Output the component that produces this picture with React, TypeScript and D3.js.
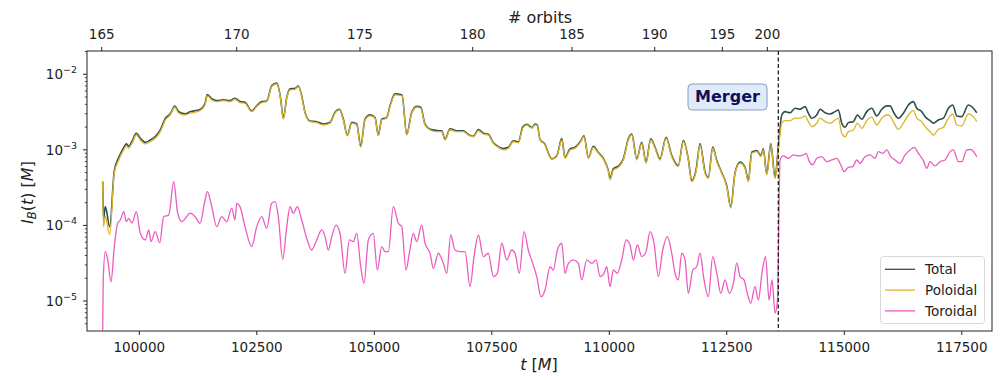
import React from 'react';
import * as d3 from 'd3';

// ---- data ----
const POL_T = [
  99221, 99238, 99277, 99370, 99468, 99562, 99668, 99723, 99774, 99845,
  99936, 100021, 100128, 100234, 100340, 100447, 100553, 100660, 100753, 100838,
  100979, 101079, 101292, 101398, 101447, 101541, 101647, 101787, 101930, 102036,
  102143, 102249, 102392, 102498, 102604, 102711, 102817, 102924, 103009, 103064,
  103137, 103207, 103313, 103383, 103456, 103526, 103632, 103775, 103915, 104058,
  104164, 104256, 104341, 104426, 104520, 104626, 104711, 104803, 104909, 105016,
  105086, 105158, 105264, 105335, 105441, 105590, 105690, 105796, 105903, 105988,
  106079, 106186, 106328, 106435, 106505, 106611, 106754, 106894, 107001, 107107,
  107214, 107320, 107426, 107533, 107639, 107746, 107852, 107958, 108065, 108158,
  108243, 108350, 108420, 108469, 108526, 108633, 108703, 108775, 108882, 108988,
  109058, 109165, 109271, 109378, 109463, 109554, 109661, 109767, 109873, 109980,
  110016, 110086, 110193, 110299, 110405, 110478, 110584, 110691, 110782, 110882,
  110974, 111080, 111208, 111329, 111469, 111576, 111682, 111754, 111846, 111931,
  112038, 112108, 112201, 112287, 112393, 112499, 112585, 112676, 112782, 112889,
  112959, 113031, 113138, 113223, 113278, 113350, 113436, 113527, 113597,
  113670, 113740, 113846, 113953, 114059, 114165, 114236, 114308, 114414, 114485,
  114591, 114697, 114804, 114874, 114946, 115017, 115087, 115193, 115278, 115372,
  115478, 115585, 115691, 115797, 115904, 115974, 116059, 116151, 116257, 116364,
  116470, 116542, 116649, 116719, 116825, 116896, 117002, 117108, 117215, 117308,
  117394, 117500, 117640, 117747, 117819,
];
const POL_V = [
  3.8e-4, 9.6e-5, 1.31e-4, 7.5e-5, 4.94e-4, 7.34e-4, 1.0e-3, 1.12e-3, 1.05e-3, 1.22e-3,
  1.57e-3, 1.35e-3, 1.2e-3, 1.28e-3, 1.42e-3, 1.74e-3, 2.48e-3, 2.89e-3, 3.66e-3, 3.05e-3,
  2.89e-3, 3.05e-3, 3.3e-3, 3.92e-3, 5.16e-3, 4.57e-3, 4.34e-3, 4.47e-3, 4.34e-3, 4.67e-3,
  4.21e-3, 4.13e-3, 3.2e-3, 3.73e-3, 4.21e-3, 4.34e-3, 6.85e-3, 7.44e-3, 4.57e-3, 2.54e-3,
  4.81e-3, 6.2e-3, 6.33e-3, 6.85e-3, 5.05e-3, 3.05e-3, 2.36e-3, 2.29e-3, 2.13e-3, 2.25e-3,
  3.05e-3, 3.37e-3, 2.48e-3, 1.53e-3, 2.25e-3, 2.13e-3, 1.08e-3, 2.48e-3, 2.81e-3, 2.62e-3,
  1.53e-3, 2.48e-3, 2.62e-3, 3.73e-3, 5.32e-3, 5.16e-3, 1.57e-3, 3.05e-3, 3.66e-3, 3.55e-3,
  2.13e-3, 1.83e-3, 1.74e-3, 1.74e-3, 1.35e-3, 1.83e-3, 1.74e-3, 1.74e-3, 1.57e-3, 1.49e-3,
  1.79e-3, 1.62e-3, 1.57e-3, 1.22e-3, 1.08e-3, 9.96e-4, 1.05e-3, 1.28e-3, 1.24e-3, 1.93e-3,
  2.13e-3, 1.93e-3, 2.13e-3, 2.07e-3, 1.35e-3, 1.16e-3, 9.0e-4, 7.5e-4, 8.12e-4, 1.35e-3,
  7.73e-4, 9.96e-4, 1.05e-3, 1.24e-3, 1.49e-3, 7.73e-4, 1.08e-3, 9.0e-4, 7.5e-4, 5.14e-4,
  4.0e-4, 5.42e-4, 5.88e-4, 7.34e-4, 1.35e-3, 1.57e-3, 7.34e-4, 1.22e-3, 6.64e-4, 1.35e-3,
  1.05e-3, 7.34e-4, 1.42e-3, 8.12e-4, 6.0e-4, 1.28e-3, 7.34e-4, 3.79e-4, 5.14e-4, 1.16e-3,
  4.9e-4, 4.21e-4, 1.05e-3, 6.97e-4, 4.9e-4, 3.26e-4, 1.69e-4, 4.9e-4, 6.64e-4, 5.7e-4,
  3.79e-4, 9.0e-4, 9.46e-4, 8.12e-4, 9.96e-4, 4.65e-4, 1.16e-3, 4.2e-4, 1.0e-3,
  2.25e-3, 2.43e-3, 2.43e-3, 2.62e-3, 2.62e-3, 2.81e-3, 2.36e-3, 2.03e-3, 2.25e-3, 2.62e-3,
  2.36e-3, 2.25e-3, 2.48e-3, 2.62e-3, 1.66e-3, 1.49e-3, 1.74e-3, 1.83e-3, 2.25e-3, 1.93e-3,
  2.43e-3, 2.7e-3, 2.13e-3, 2.62e-3, 2.89e-3, 2.81e-3, 2.25e-3, 1.87e-3, 2.25e-3, 2.89e-3,
  3.3e-3, 2.62e-3, 2.36e-3, 2.03e-3, 1.74e-3, 1.57e-3, 1.87e-3, 1.99e-3, 2.62e-3, 2.98e-3,
  2.13e-3, 2.07e-3, 2.98e-3, 2.75e-3, 2.36e-3,
];
const TOT_V = [
  3.8e-4, 1.2e-4, 1.77e-4, 9.6e-5, 5.3e-4, 7.9e-4, 1.07e-3, 1.2e-3, 1.12e-3, 1.3e-3,
  1.66e-3, 1.42e-3, 1.26e-3, 1.35e-3, 1.5e-3, 1.84e-3, 2.6e-3, 3.0e-3, 3.8e-3, 3.2e-3,
  3.0e-3, 3.18e-3, 3.42e-3, 4.1e-3, 5.4e-3, 4.75e-3, 4.48e-3, 4.6e-3, 4.48e-3, 4.8e-3,
  4.36e-3, 4.25e-3, 3.26e-3, 3.83e-3, 4.34e-3, 4.43e-3, 7.05e-3, 7.65e-3, 4.7e-3, 2.6e-3,
  4.92e-3, 6.4e-3, 6.5e-3, 7.0e-3, 5.18e-3, 3.12e-3, 2.41e-3, 2.35e-3, 2.2e-3, 2.3e-3,
  3.15e-3, 3.45e-3, 2.56e-3, 1.56e-3, 2.31e-3, 2.2e-3, 1.11e-3, 2.55e-3, 2.9e-3, 2.68e-3,
  1.56e-3, 2.54e-3, 2.67e-3, 3.85e-3, 5.5e-3, 5.3e-3, 1.6e-3, 3.14e-3, 3.76e-3, 3.65e-3,
  2.19e-3, 1.87e-3, 1.8e-3, 1.78e-3, 1.38e-3, 1.9e-3, 1.79e-3, 1.78e-3, 1.6e-3, 1.51e-3,
  1.86e-3, 1.66e-3, 1.61e-3, 1.24e-3, 1.1e-3, 1.04e-3, 1.08e-3, 1.32e-3, 1.27e-3, 2.0e-3,
  2.18e-3, 1.97e-3, 2.19e-3, 2.11e-3, 1.37e-3, 1.18e-3, 9.1e-4, 7.6e-4, 8.3e-4, 1.41e-3,
  7.9e-4, 1.03e-3, 1.08e-3, 1.27e-3, 1.53e-3, 7.9e-4, 1.11e-3, 9.2e-4, 7.7e-4, 5.3e-4,
  4.2e-4, 5.6e-4, 6.1e-4, 7.6e-4, 1.4e-3, 1.62e-3, 7.6e-4, 1.26e-3, 6.9e-4, 1.4e-3,
  1.08e-3, 7.55e-4, 1.47e-3, 8.4e-4, 6.2e-4, 1.33e-3, 7.5e-4, 3.9e-4, 5.4e-4, 1.21e-3,
  5.1e-4, 4.3e-4, 1.09e-3, 7.2e-4, 5.0e-4, 3.35e-4, 1.75e-4, 5.0e-4, 6.9e-4, 5.85e-4,
  3.9e-4, 9.3e-4, 9.8e-4, 8.4e-4, 1.03e-3, 4.8e-4, 1.2e-3, 4.3e-4, 1.1e-3,
  2.89e-3, 3.2e-3, 3.1e-3, 3.55e-3, 3.44e-3, 3.73e-3, 3.05e-3, 2.62e-3, 2.89e-3, 3.44e-3,
  3.1e-3, 2.98e-3, 3.2e-3, 3.37e-3, 2.25e-3, 1.99e-3, 2.29e-3, 2.36e-3, 2.89e-3, 2.54e-3,
  3.2e-3, 3.55e-3, 2.81e-3, 3.44e-3, 3.81e-3, 3.81e-3, 3.05e-3, 2.62e-3, 3.05e-3, 3.92e-3,
  4.34e-3, 3.55e-3, 3.2e-3, 2.75e-3, 2.43e-3, 2.25e-3, 2.48e-3, 2.62e-3, 3.55e-3, 3.92e-3,
  2.81e-3, 2.75e-3, 3.92e-3, 3.55e-3, 3.1e-3,
];
const TOR_T = [
  99221, 99232, 99277, 99328, 99398, 99468, 99540, 99596, 99668, 99723,
  99774, 99845, 99936, 100021, 100128, 100200, 100249, 100340, 100434, 100519,
  100626, 100732, 100817, 100909, 101009, 101079, 101185, 101292, 101398, 101447,
  101541, 101647, 101753, 101860, 101966, 102036, 102073, 102143, 102249, 102392,
  102498, 102604, 102711, 102817, 102888, 102958, 103051, 103137, 103207, 103277,
  103362, 103456, 103562, 103668, 103775, 103881, 103952, 104022, 104094, 104186,
  104271, 104377, 104469, 104554, 104626, 104711, 104781, 104873, 104979, 105064,
  105158, 105228, 105298, 105405, 105511, 105584, 105675, 105745, 105830, 105903,
  106009, 106079, 106186, 106256, 106362, 106469, 106541, 106626, 106718, 106824,
  106931, 107037, 107122, 107214, 107320, 107426, 107533, 107618, 107712, 107818,
  107924, 107995, 108086, 108186, 108277, 108371, 108456, 108548, 108633, 108739,
  108809, 108895, 108988, 109058, 109129, 109235, 109342, 109414, 109520, 109627,
  109718, 109803, 109888, 109946, 110016, 110086, 110171, 110265, 110357, 110441,
  110512, 110597, 110691, 110782, 110867, 110952, 111044, 111137, 111235, 111329,
  111399, 111469, 111542, 111612, 111682, 111776, 111861, 111931, 112016, 112108,
  112201, 112287, 112372, 112463, 112555, 112640, 112712, 112782, 112867, 112937,
  113010, 113101, 113172, 113250, 113325, 113400, 113463, 113527, 113580,
  113633, 113704, 113810, 113917, 114023, 114129, 114187, 114257, 114329, 114414,
  114521, 114627, 114733, 114840, 114925, 114995, 115087, 115180, 115266, 115336,
  115442, 115549, 115655, 115725, 115819, 115904, 115989, 116080, 116187, 116293,
  116400, 116485, 116576, 116683, 116755, 116825, 116932, 117038, 117144, 117251,
  117321, 117428, 117500, 117606, 117691, 117819,
];
const TOR_V = [
  4.1e-6, 1.9e-5, 4.49e-5, 3.49e-5, 1.8e-5, 5.24e-5, 1.07e-4, 1.18e-4, 1.52e-4, 1.12e-4,
  1.24e-4, 1.07e-4, 1.52e-4, 7.87e-5, 6.42e-5, 8.71e-5, 6.1e-5, 8.26e-5, 5.91e-5, 1.31e-4,
  1.37e-4, 3.79e-4, 1.45e-4, 1.12e-4, 1.31e-4, 1.45e-4, 1.31e-4, 1.07e-4, 2.17e-4, 2.8e-4,
  1.77e-4, 9.62e-5, 1.31e-4, 1.12e-4, 1.69e-4, 1.18e-4, 1.96e-4, 1.77e-4, 9.62e-5, 5.24e-5,
  9.62e-5, 1.31e-4, 9.17e-5, 1.96e-4, 2.06e-4, 1.31e-4, 3.56e-5, 9.62e-5, 1.77e-4, 1.45e-4,
  1.77e-4, 1.18e-4, 6.76e-5, 4.73e-5, 6.42e-5, 8.71e-5, 7.1e-5, 4.73e-5, 7.1e-5, 1.01e-4,
  7.87e-5, 2.33e-5, 6.42e-5, 6.1e-5, 7.87e-5, 2.84e-5, 1.71e-5, 6.42e-5, 7.87e-5, 2.57e-5,
  5.24e-5, 4.49e-5, 4.49e-5, 1.77e-4, 1.07e-4, 9.62e-5, 2.57e-5, 4.28e-5, 7.87e-5, 6.1e-5,
  1.01e-4, 5.81e-5, 4.28e-5, 2.71e-5, 4.28e-5, 3.15e-5, 2.33e-5, 7.47e-5, 4.73e-5, 4.49e-5,
  4.49e-5, 1.55e-5, 3.86e-5, 7.47e-5, 3.86e-5, 4.28e-5, 2.1e-5, 2.33e-5, 5.81e-5, 3.49e-5,
  4.73e-5, 4.28e-5, 2.33e-5, 8.26e-5, 4.73e-5, 3.15e-5, 2.1e-5, 1.14e-5, 1.4e-5, 2.84e-5,
  2.57e-5, 4.73e-5, 5.81e-5, 2.33e-5, 3.15e-5, 3.49e-5, 3.15e-5, 1.9e-5, 3.49e-5, 3.15e-5,
  3.49e-5, 2.1e-5, 2.33e-5, 2.84e-5, 1.55e-5, 2.57e-5, 2.33e-5, 3.49e-5, 6.42e-5, 5.51e-5,
  3.49e-5, 5.51e-5, 3.86e-5, 4.49e-5, 8.26e-5, 5.81e-5, 2.1e-5, 4.73e-5, 7.1e-5, 4.28e-5,
  2.33e-5, 1.9e-5, 4.28e-5, 3.49e-5, 1.26e-5, 2.57e-5, 2.84e-5, 4.28e-5, 1.9e-5, 1.14e-5,
  3.86e-5, 2.33e-5, 1.26e-5, 1.9e-5, 1.26e-5, 1.71e-5, 3.2e-5, 2.1e-5, 1.9e-5, 1.26e-5,
  9.33e-6, 1.55e-5, 1.03e-5, 2.4e-5, 3.86e-5, 1.03e-5, 1.9e-5, 6.9e-6, 1.06e-5,
  7.34e-4, 8.3e-4, 7.73e-4, 8.55e-4, 8.3e-4, 8.55e-4, 9.0e-4, 6.97e-4, 6.31e-4, 7.73e-4,
  8.12e-4, 6.97e-4, 7.34e-4, 7.73e-4, 6.31e-4, 5.14e-4, 5.88e-4, 5.99e-4, 7.34e-4, 6.64e-4,
  8.12e-4, 8.55e-4, 7.73e-4, 9.46e-4, 9.0e-4, 9.96e-4, 8.12e-4, 7.34e-4, 6.64e-4, 8.55e-4,
  9.96e-4, 1.08e-3, 9.0e-4, 7.19e-4, 5.7e-4, 6.97e-4, 6.12e-4, 6.97e-4, 7.34e-4, 9.46e-4,
  9.96e-4, 6.97e-4, 6.97e-4, 9.96e-4, 1.01e-3, 8.12e-4,
];

const X_TICKS = [100000, 102500, 105000, 107500, 110000, 112500, 115000, 117500];
const Y_TICK_EXP = [-5, -4, -3, -2];
const ORBIT_TICKS = [165, 170, 175, 180, 185, 190, 195, 200];
const ORBIT_TICK_T = [99200, 102073, 104696, 107094, 109207, 110967, 112406, 113363];
const MERGER_T = 113596;

const SERIES = [
  { name: 'Total', t: POL_T, v: TOT_V, color: '#2f4f4f', w: 1.6 },
  { name: 'Poloidal', t: POL_T, v: POL_V, color: '#dcb52a', w: 1.3 },
  { name: 'Toroidal', t: TOR_T, v: TOR_V, color: '#ec5cc0', w: 1.3 },
];

const W = 1002, H = 380;
const L = 87, R = 992, T = 51, B = 331;
const FONT = 'DejaVu Sans, sans-serif';

export default function App() {
  const x = d3.scaleLinear().domain([98887, 118143]).range([L, R]);
  const y = d3.scaleLog().domain([4.01e-6, 2.03e-2]).range([B, T]);
  const line = d3.line<[number, number]>()
    .x(d => x(d[0])).y(d => y(d[1]))
    .curve(d3.curveMonotoneX);

  const minor: number[] = [];
  for (let e = -6; e <= -2; e++) {
    for (let k = 2; k <= 9; k++) {
      const v = k * Math.pow(10, e);
      if (v >= 4.01e-6 && v <= 2.03e-2) minor.push(v);
    }
  }

  return (
    <svg width={W} height={H} style={{ position: 'absolute', left: 0, top: 0, background: '#fff' }} fontFamily={FONT}>
      <defs>
        <clipPath id="plot"><rect x={L} y={T} width={R - L} height={B - T} /></clipPath>
      </defs>
      <rect x={0} y={0} width={W} height={H} fill="#fff" />
      <g clipPath="url(#plot)">
        {SERIES.map(s => (
          <path key={s.name}
            d={line(s.t.map((t, i) => [t, s.v[i]] as [number, number])) || ''}
            fill="none" stroke={s.color} strokeWidth={s.w} strokeLinejoin="round" />
        ))}
      </g>
      {/* merger line */}
      <line x1={x(MERGER_T)} x2={x(MERGER_T)} y1={T} y2={B} stroke="#111" strokeWidth={1.2} strokeDasharray="4,2.5" />
      {/* frame */}
      <rect x={L} y={T} width={R - L} height={B - T} fill="none" stroke="#222" strokeWidth={1} />
      {/* bottom axis */}
      {X_TICKS.map(t => (
        <g key={t}>
          <line x1={x(t)} x2={x(t)} y1={B} y2={B + 4} stroke="#222" />
          <text x={x(t)} y={352} fontSize={13.5} textAnchor="middle" fill="#222">{t}</text>
        </g>
      ))}
      {/* top axis */}
      {ORBIT_TICK_T.map((t, i) => (
        <g key={t}>
          <line x1={x(t)} x2={x(t)} y1={T} y2={T - 4} stroke="#222" />
          <text x={x(t)} y={39} fontSize={13.5} textAnchor="middle" fill="#222">{ORBIT_TICKS[i]}</text>
        </g>
      ))}
      {/* left axis */}
      {minor.map(v => (
        <line key={v} x1={L} x2={L - 2.2} y1={y(v)} y2={y(v)} stroke="#222" strokeWidth={0.8} />
      ))}
      {Y_TICK_EXP.map(e => (
        <g key={e}>
          <line x1={L} x2={L - 4} y1={y(Math.pow(10, e))} y2={y(Math.pow(10, e))} stroke="#222" />
          <text x={77} y={y(Math.pow(10, e)) + 5} fontSize={13.5} textAnchor="end" fill="#222">
            10<tspan fontSize={9.5} dy={-6}>{'\u2212' + Math.abs(e)}</tspan>
          </text>
        </g>
      ))}
      {/* axis labels */}
      <text x={540} y={23} fontSize={16} textAnchor="middle" fill="#222"># orbits</text>
      <text x={539} y={370} fontSize={16} textAnchor="middle" fill="#222">
        <tspan fontStyle="italic">t</tspan> [<tspan fontStyle="italic">M</tspan>]
      </text>
      <text transform="translate(33,192.5) rotate(-90)" fontSize={16} textAnchor="middle" fill="#222">
        <tspan fontStyle="italic">I</tspan><tspan fontStyle="italic" fontSize={11.5} dy={3}>B</tspan><tspan dy={-3}>(</tspan><tspan fontStyle="italic">t</tspan>) [<tspan fontStyle="italic">M</tspan>]
      </text>
      {/* merger annotation */}
      <rect x={688} y={84} width={79} height={26} rx={4} fill="#e0ebf9" stroke="#8a9cc0" strokeWidth={1} />
      <text x={727.5} y={102} fontSize={16} fontWeight="bold" textAnchor="middle" fill="#10105a">Merger</text>
      {/* legend */}
      <rect x={880.5} y={256.5} width={104} height={67} rx={3} fill="#fff" fillOpacity={0.85} stroke="#d8d8d8" />
      {SERIES.map((s, i) => {
        const ly = 269.3 + i * 20.8;
        return (
          <g key={s.name}>
            <line x1={885} x2={915} y1={ly} y2={ly} stroke={s.color} strokeWidth={1.3} />
            <text x={925} y={ly + 5} fontSize={13.5} fill="#222">{s.name}</text>
          </g>
        );
      })}
    </svg>
  );
}
